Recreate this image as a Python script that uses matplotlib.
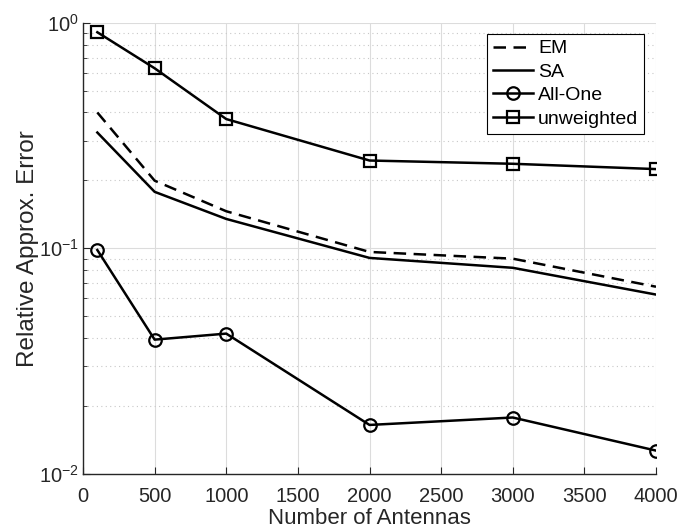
import numpy as np
import matplotlib.pyplot as plt
from matplotlib.ticker import LogLocator, FixedLocator, FuncFormatter, NullFormatter

plt.rcParams['font.family'] = ['Liberation Sans', 'DejaVu Sans']
plt.rcParams['mathtext.fontset'] = 'custom'
plt.rcParams['mathtext.rm'] = 'Liberation Sans'

antennas = [100, 500, 1000, 2000, 3000, 4000]
err_em = [0.40, 0.1995, 0.146, 0.0964, 0.090, 0.0676]
err_sa = [0.326, 0.178, 0.135, 0.0907, 0.082, 0.0624]
err_allone = [0.0983, 0.0394, 0.0419, 0.0165, 0.0178, 0.0127]
err_unweighted = [0.907, 0.628, 0.374, 0.245, 0.237, 0.2245]

xticks = [0, 500, 1000, 1500, 2000, 2500, 3000, 3500, 4000]

fig = plt.figure(figsize=(6.81, 5.31), dpi=100)
ax = fig.add_axes([0.1219, 0.1073, 0.8414, 0.85])

lw = 1.8
ax.plot(antennas, err_em, color='black', lw=lw, dashes=(5, 3), label='EM')
ax.plot(antennas, err_sa, color='black', lw=lw, label='SA')
ax.plot(antennas, err_allone, color='black', lw=lw, marker='o', ms=9,
        mfc='none', mew=1.6, label='All-One')
ax.plot(antennas, err_unweighted, color='black', lw=lw, marker='s', ms=8.5,
        mfc='none', mew=1.6, label='unweighted')

ax.set_yscale('log')
ax.set_xlim(0, 4000)
ax.set_ylim(1e-2, 1e0)
ax.xaxis.set_major_locator(FixedLocator(xticks))
ax.yaxis.set_major_locator(LogLocator(base=10, numticks=10))
ax.yaxis.set_minor_locator(LogLocator(base=10, subs=np.arange(2, 10), numticks=10))
ax.yaxis.set_major_formatter(FuncFormatter(lambda v, p: r'$\mathregular{10^{%d}}$' % round(np.log10(v))))
ax.yaxis.set_minor_formatter(NullFormatter())

ax.grid(True, which='major', color='#dcdcdc', lw=0.8, ls='-')
ax.grid(True, which='minor', axis='y', color='#c8c8c8', lw=0.8, ls=(0, (1, 3)))
ax.set_axisbelow(True)

for s in ['top', 'right']:
    ax.spines[s].set_visible(False)
for s in ['left', 'bottom']:
    ax.spines[s].set_color('#262626')
    ax.spines[s].set_linewidth(1.0)

ax.tick_params(which='both', direction='in', colors='#262626', labelsize=14.5,
               top=False, right=False)
ax.tick_params(which='major', length=5)
ax.tick_params(which='minor', length=3)
ax.tick_params(axis='x', pad=9)
ax.tick_params(axis='y', pad=3)

ax.set_xlabel('Number of Antennas', fontsize=16, color='#262626', labelpad=2)
ax.set_ylabel('Relative Approx. Error', fontsize=17.5, color='#262626', labelpad=0)

leg = ax.legend(loc='upper right', bbox_to_anchor=(0.979, 0.975), fontsize=14,
                fancybox=False, framealpha=1, edgecolor='black', handlelength=2.05,
                handletextpad=0.25, borderpad=0.3, labelspacing=0.3, borderaxespad=0)
leg.get_frame().set_linewidth(0.8)

fig.savefig('out.png', dpi=100)
